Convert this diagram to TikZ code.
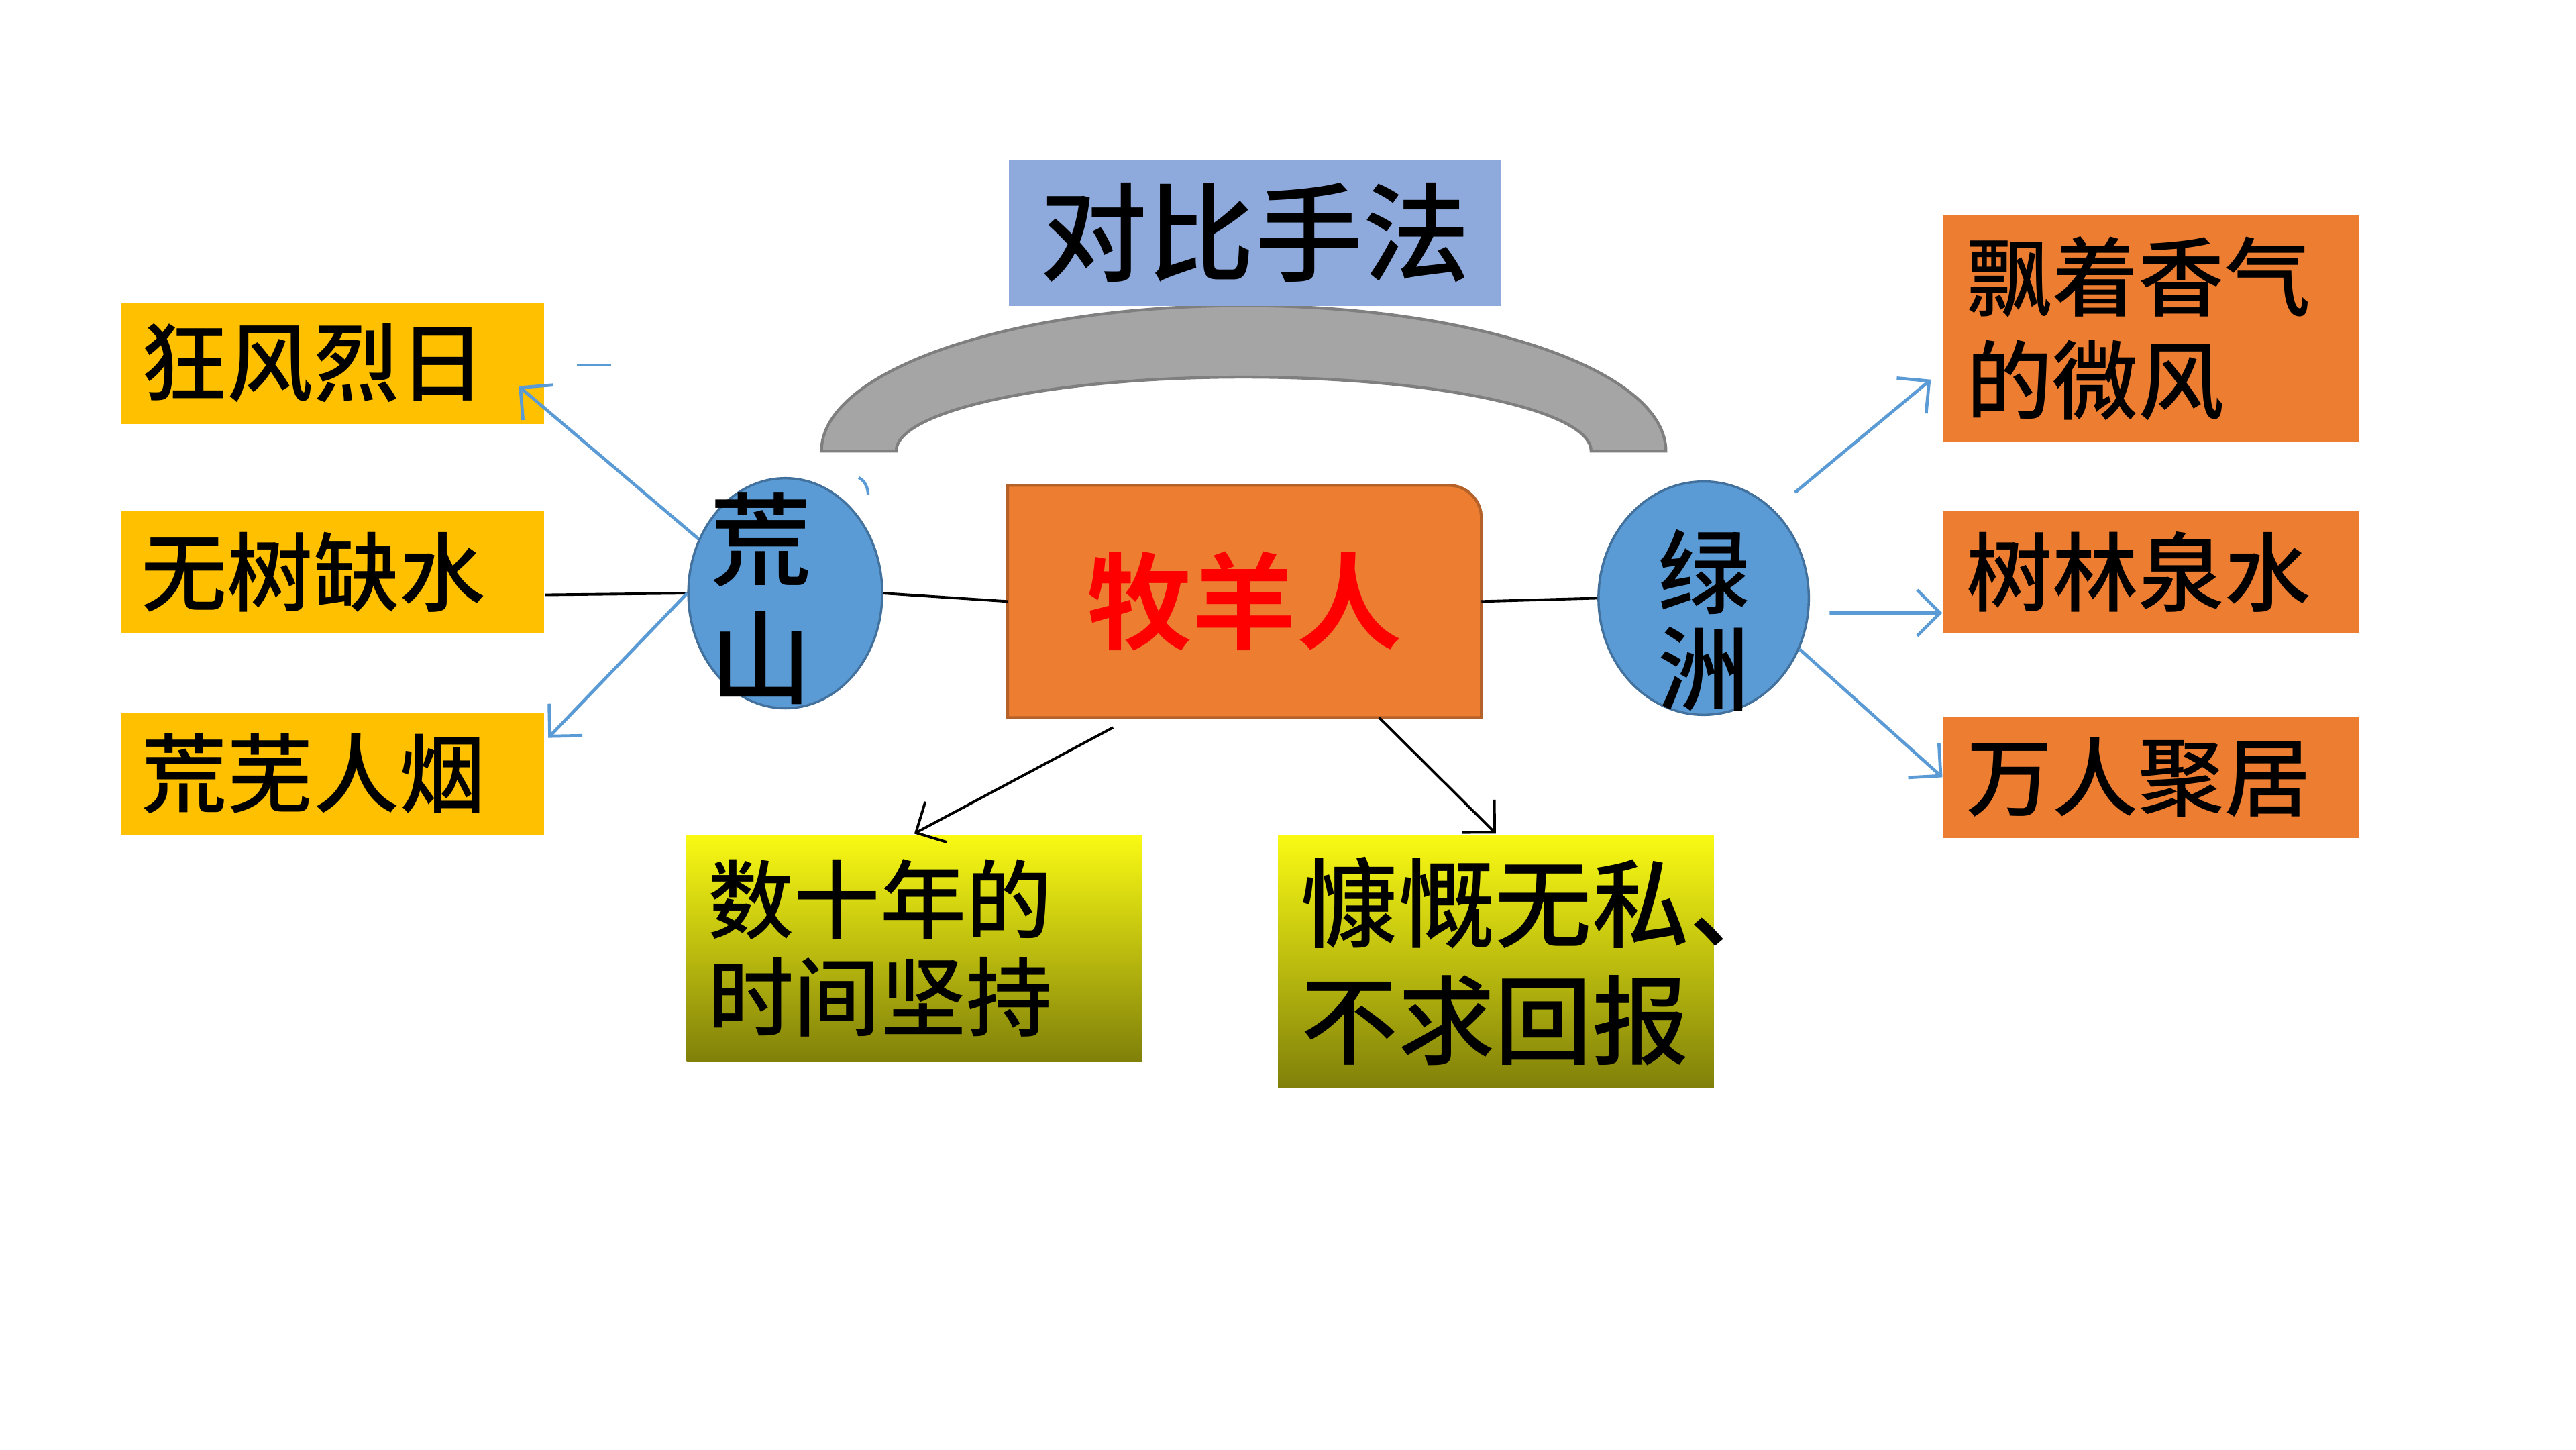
\documentclass[tikz,border=0pt]{standalone}
\usepackage{fontspec}
\setmainfont{Noto Sans CJK SC Medium}[BoldFont={Noto Sans CJK SC Bold}]
\usetikzlibrary{arrows.meta, calc, shapes.geometric, backgrounds}
\definecolor{cSky}{HTML}{8EA9DB}
\definecolor{cGold}{HTML}{FFC000}
\definecolor{cOrange}{HTML}{ED7D31}
\definecolor{cOrangeEdge}{HTML}{B4612A}
\definecolor{cBall}{HTML}{5B9BD5}
\definecolor{cBallEdge}{HTML}{41719C}
\definecolor{cArch}{HTML}{A5A5A5}
\definecolor{cArchEdge}{HTML}{7F7F7F}
\definecolor{cOliveTop}{HTML}{FAFA14}
\definecolor{cOliveMid}{HTML}{D6D60F}
\definecolor{cOliveBot}{HTML}{80800A}

\begin{document}
\begin{tikzpicture}[
    x=1cm, y=1cm,
    tag/.style={rectangle, inner xsep=0.12cm, inner ysep=0pt, align=left,
                font=\fontsize{14.9pt}{17.9pt}\selectfont},
    gold/.style={tag, fill=cGold, text width=2.33cm, minimum height=0.74cm},
    rbox/.style={tag, fill=cOrange, inner xsep=0.14cm, text width=2.25cm, minimum height=0.74cm},
    olive/.style={tag, top color=cOliveTop, middle color=cOliveMid, bottom color=cOliveBot},
    ball/.style={ellipse, draw=cBallEdge, fill=cBall, line width=0.4pt, inner sep=0pt},
    word/.style={align=center, inner sep=0pt},
    arco/.style={draw=cArchEdge, fill=cArch, line width=0.5pt},
    lnk/.style={draw=black, line width=0.45pt},
    bl/.style={-{Straight Barb[length=1.4mm, width=2.8mm]}, draw=cBall, line width=0.55pt},
    bk/.style={-{Straight Barb[length=1.4mm, width=2.8mm]}, draw=black, line width=0.45pt},
]

\begin{pgfonlayer}{background}
  \fill[white] (0,0) rectangle (15.68,8.82);
\end{pgfonlayer}
\useasboundingbox (0,0) rectangle (15.68,8.82);

% ===================== Arco gris bajo el título =====================
\draw[arco] (5.00,6.075) arc[start angle=180, end angle=0, x radius=2.57, y radius=0.885]
      -- (9.685,6.075) arc[start angle=0, end angle=180, x radius=2.115, y radius=0.45] -- cycle;

\node[fill=cSky, minimum width=3.00cm, minimum height=0.89cm, inner sep=0pt,
      font=\fontsize{18.6pt}{20pt}\selectfont] (duibi) at (7.64,7.405) {对比手法};

% ===================== Centro =====================
\node[minimum width=2.87cm, minimum height=1.40cm, inner sep=0pt, text=red,
      font=\fontsize{18.2pt}{20pt}\selectfont\bfseries] (muyang) at (7.575,5.16) {牧羊人};
\begin{pgfonlayer}{background}
  \draw[draw=cOrangeEdge, fill=cOrange, line width=0.5pt]
        (muyang.south west) -- (muyang.north west) -- ($(muyang.north east)+(-0.2,0)$)
        arc[start angle=90, end angle=0, radius=0.2] -- (muyang.south east) -- cycle;
\end{pgfonlayer}

\node[ball, minimum width=1.18cm, minimum height=1.40cm] (huangshan) at (4.78,5.21) {};
\node[word, font=\fontsize{17.6pt}{20.5pt}\selectfont] (hsText) at ($(huangshan)+(-0.15,-0.03)$) {荒\\山};

\node[ball, minimum width=1.28cm, minimum height=1.42cm] (lvzhou) at (10.37,5.18) {};
\node[word, font=\fontsize{15.9pt}{16.8pt}\selectfont] (lzText) at ($(lvzhou)+(0,-0.135)$) {绿\\洲};

% ===================== Izquierda: 荒山 =====================
\node[gold] (fengri)  at (2.025,6.61) {狂风烈日};
\node[gold] (queshui) at (2.025,5.34) {无树缺水};
\node[gold] (renyan)  at (2.025,4.11) {荒芜人烟};

% ===================== Derecha: 绿洲 =====================
\node[rbox, minimum height=1.38cm] (piao) at (13.095,6.82) {飘着香气\\的微风};
\node[rbox] (shulin) at (13.095,5.34) {树林泉水};
\node[rbox] (wanren) at (13.095,4.09) {万人聚居};

% ===================== Abajo =====================
\node[olive, inner xsep=0.13cm, text width=2.51cm, minimum height=1.38cm,
      font=\fontsize{14.9pt}{16.8pt}\selectfont] (shinian) at (5.565,3.05) {数十年的\\时间坚持};
\node[olive, inner xsep=0.14cm, text width=2.37cm, minimum height=1.54cm,
      font=\fontsize{16.8pt}{20.2pt}\selectfont] (kangkai) at (9.105,2.97) {慷慨无私、\\不求回报};

% ===================== Conexiones =====================
\draw[lnk] ($(queshui.east)+(0,-0.14)$) -- (huangshan.west);
\draw[lnk] (huangshan.east) -- (muyang.west);
\draw[lnk] (muyang.east) -- (lvzhou.west);

\draw[bl] (huangshan.148) -- ($(fengri.east)+(-0.16,-0.14)$);
\draw[bl] (huangshan.west) -- ($(renyan.east)+(0.02,0.22)$);

\draw[bl] ($(lvzhou.center)+(0.556,0.643)$) -- ($(piao.west)+(-0.07,-0.31)$);
\draw[bl] ($(lvzhou.east)+(0.12,-0.09)$) -- ($(shulin.west)+(0,-0.25)$);
\draw[bl] (lvzhou.-28) -- (wanren.west);

\draw[bk] ($(muyang.south)+(-0.8,-0.06)$) -- (shinian.north);
\draw[bk] ($(muyang.south)+(0.82,0)$) -- (kangkai.north);

% trazos sueltos
\draw[draw=cBall, line width=0.5pt] (3.51,6.60) -- (3.72,6.60);
\draw[draw=cBall, line width=0.5pt] (5.227,5.913) .. controls (5.265,5.895) and (5.284,5.85) .. (5.284,5.81);

\end{tikzpicture}
\end{document}
